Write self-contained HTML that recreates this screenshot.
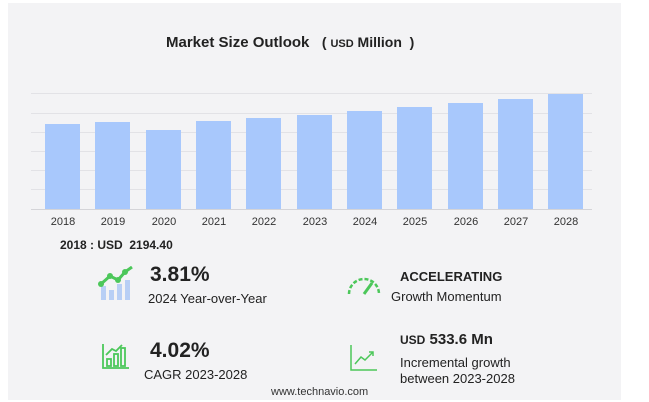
<!DOCTYPE html>
<html><head><meta charset="utf-8"><style>
body{margin:0;width:649px;height:402px;background:#fff;font-family:"Liberation Sans",sans-serif;position:relative;overflow:hidden}
.card{position:absolute;left:8px;top:3px;width:613px;height:397px;background:#f3f3f5}
.t{position:absolute;white-space:nowrap;color:#222}
.grid{position:absolute;left:31px;width:561px;height:1px;background:#e2e2e6}
.bar{position:absolute;width:35px;background:#a8c8fc}
.yl{position:absolute;top:216px;font-size:11px;color:#333;width:50px;text-align:center}
</style></head><body>
<div class="card"></div>
<div class="t" style="left:166px;top:34px;font-size:15px;font-weight:bold">Market Size Outlook &nbsp;&nbsp;<span style="font-size:14px">(&nbsp;<span style="font-size:11px">USD</span> Million&nbsp; )</span></div>
<div class="grid" style="top:93px"></div><div class="grid" style="top:113px"></div><div class="grid" style="top:132px"></div><div class="grid" style="top:151px"></div><div class="grid" style="top:170px"></div><div class="grid" style="top:189px"></div>
<div class="grid" style="top:209px;background:#d4d4d8"></div>
<div class="bar" style="left:45px;top:124px;height:85px"></div>
<div class="bar" style="left:95px;top:122px;height:87px"></div>
<div class="bar" style="left:146px;top:130px;height:79px"></div>
<div class="bar" style="left:196px;top:121px;height:88px"></div>
<div class="bar" style="left:246px;top:118px;height:91px"></div>
<div class="bar" style="left:297px;top:115px;height:94px"></div>
<div class="bar" style="left:347px;top:111px;height:98px"></div>
<div class="bar" style="left:397px;top:107px;height:102px"></div>
<div class="bar" style="left:448px;top:103px;height:106px"></div>
<div class="bar" style="left:498px;top:99px;height:110px"></div>
<div class="bar" style="left:548px;top:94px;height:115px"></div>
<div class="yl" style="left:38px">2018</div><div class="yl" style="left:88px">2019</div><div class="yl" style="left:139px">2020</div><div class="yl" style="left:189px">2021</div><div class="yl" style="left:239px">2022</div><div class="yl" style="left:290px">2023</div><div class="yl" style="left:340px">2024</div><div class="yl" style="left:390px">2025</div><div class="yl" style="left:441px">2026</div><div class="yl" style="left:491px">2027</div><div class="yl" style="left:541px">2028</div>
<div class="t" style="left:60px;top:238px;font-size:12px;font-weight:bold">2018 : USD&nbsp; 2194.40</div>
<svg style="position:absolute;left:98px;top:266px" width="40" height="36">
<g fill="#b8cff5"><rect x="3" y="20" width="5" height="14"/><rect x="11" y="24" width="5" height="10"/><rect x="19" y="18" width="5" height="16"/><rect x="27" y="14" width="5" height="20"/></g>
<polyline points="3,18 12,10 20,14 27,6 34,1" fill="none" stroke="#4cc75a" stroke-width="3"/>
<g fill="#4cc75a"><circle cx="3" cy="18" r="3"/><circle cx="12" cy="10" r="3"/><circle cx="20" cy="14" r="3"/><circle cx="27" cy="6" r="3"/></g></svg>
<div class="t" style="left:150px;top:263px;font-size:21px;font-weight:bold">3.81%</div>
<div class="t" style="left:148px;top:291px;font-size:13px">2024 Year-over-Year</div>
<svg style="position:absolute;left:346px;top:272px" width="36" height="26">
<path d="M3,22 A15,15 0 0 1 33,22" fill="none" stroke="#4cc75a" stroke-width="2.5" stroke-dasharray="4 2"/>
<line x1="18" y1="22" x2="26" y2="11" stroke="#4cc75a" stroke-width="3"/></svg>
<div class="t" style="left:400px;top:269px;font-size:13px;font-weight:bold">ACCELERATING</div>
<div class="t" style="left:391px;top:289px;font-size:13px">Growth Momentum</div>
<svg style="position:absolute;left:102px;top:343px" width="28" height="26" fill="none" stroke="#4cc75a" stroke-width="1.8">
<path d="M1,1 V25 H27"/><rect x="5" y="16" width="4" height="7"/><rect x="12" y="11" width="4" height="12"/><rect x="19" y="5" width="4" height="18"/><path d="M4,12 L10,6 14,8 20,2"/></svg>
<div class="t" style="left:150px;top:339px;font-size:21px;font-weight:bold">4.02%</div>
<div class="t" style="left:144px;top:367px;font-size:13px">CAGR 2023-2028</div>
<svg style="position:absolute;left:350px;top:344px" width="28" height="28" fill="none" stroke="#4cc75a" stroke-width="1.5">
<path d="M1,1 V26 H27"/><path d="M5,20 L11,13 15,16 23,8"/><path d="M19,8 H23 V12"/></svg>
<div class="t" style="left:400px;top:331px;font-size:15px;font-weight:bold"><span style="font-size:12px">USD</span> 533.6 Mn</div>
<div class="t" style="left:400px;top:355px;font-size:13px">Incremental growth</div>
<div class="t" style="left:400px;top:371px;font-size:13px">between 2023-2028</div>
<div class="t" style="left:271px;top:386px;font-size:11px;color:#333">www.technavio.com</div>
</body></html>
